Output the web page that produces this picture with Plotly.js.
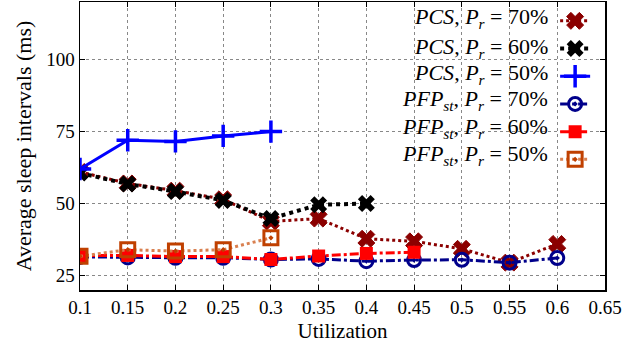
<!DOCTYPE html>
<html><head><meta charset="utf-8">
<script src="https://cdn.plot.ly/plotly-3.0.1.min.js"></script>
<style>html,body{margin:0;padding:0;background:#fff}#c{width:639px;height:352px}</style>
</head><body><div id="c"></div>
<script>
const utilization = [0.1,0.15,0.2,0.25,0.3,0.35,0.4,0.45,0.5,0.55,0.6];
const pcs70 = [61,57,54.5,51.5,43.8,44.8,37.8,36.9,34.3,29.5,36];
const pcs60 = [60.6,56.8,54.2,51.1,44.8,49.6,50];
const pcs50 = [62,72,71.6,73.5,75];
const pfp70 = [31.5,31.3,31.2,31.2,30.6,30.8,30,30.4,30.5,29.5,31.1];
const pfp60 = [32,32,31.6,31.6,30.6,31.8,32.7,33.1];
const pfp50 = [31.7,34,33.5,34,38.1];
const seriesLabels = [
  "<i>PCS</i>, <i>P<sub>r</sub></i> = 70%",
  "<i>PCS</i>, <i>P<sub>r</sub></i> = 60%",
  "<i>PCS</i>, <i>P<sub>r</sub></i> = 50%",
  "<i>PFP<sub>st</sub></i>, <i>P<sub>r</sub></i> = 70%",
  "<i>PFP<sub>st</sub></i>, <i>P<sub>r</sub></i> = 60%",
  "<i>PFP<sub>st</sub></i>, <i>P<sub>r</sub></i> = 50%"
];
const xTicks = [0.1,0.15,0.2,0.25,0.3,0.35,0.4,0.45,0.5,0.55,0.6,0.65];
const yTicks = [25,50,75,100];

const serif = "Times New Roman";
function tr(y, color, dash, width, symbol, size, mlw, mcolor) {
  return {x: utilization.slice(0, y.length), y: y, type: 'scatter', mode: 'lines+markers',
    name: ' ', line: {color: color, dash: dash, width: width},
    marker: {symbol: symbol, size: size, color: mcolor || color, line: {color: color, width: mlw}}};
}
const traces = [
  tr(pcs70, '#8b0000', 'dot', 3, 'x', 15, 1),
  tr(pcs60, '#000000', 'dot', 4, 'x', 15, 0),
  tr(pcs50, '#0000ff', 'solid', 3, 'cross-thin-open', 16, 3.5),
  tr(pfp70, '#00008b', 'dashdot', 3, 'circle-open-dot', 13, 3),
  tr(pfp60, '#ff0000', 'dashdot', 3, 'square', 13, 0),
  tr(pfp50, '#c04000', 'dot', 3, 'square-open-dot', 14, 3)
];
traces[5].line.color = '#d98050';
traces[5].marker.line.color = '#c04000';
traces[5].marker.color = '#c04000';

const rowY = [0.944, 0.842, 0.75, 0.658, 0.5625, 0.469];
const annotations = seriesLabels.map((t, i) => ({
  text: t, xref: 'paper', yref: 'paper', x: 0.895, y: rowY[i], xanchor: 'right', yanchor: 'middle',
  showarrow: false, font: {family: serif, size: 22, color: '#000'}
}));

const axisCommon = {showline: true, linecolor: '#000', linewidth: 1.5, mirror: 'ticks', ticks: 'inside', ticklen: 5,
  tickcolor: '#000', showgrid: true, gridcolor: '#888', griddash: 'dot', gridwidth: 1, zeroline: false,
  tickfont: {family: serif, size: 19, color: '#000'}};

const layout = {
  width: 639, height: 352, margin: {l: 80, r: 34, t: 2, b: 62},
  paper_bgcolor: '#fff', plot_bgcolor: '#fff',
  font: {family: serif},
  showlegend: true,
  legend: {x: 0.905, y: 1.0, xanchor: 'left', yanchor: 'top', bgcolor: 'rgba(0,0,0,0)', font: {family: serif, size: 19}, itemwidth: 30, tracegroupgap: 0},
  xaxis: Object.assign({}, axisCommon, {range: [0.1, 0.65], tickvals: xTicks, ticktext: xTicks.map(String),
    title: {text: 'Utilization', font: {family: serif, size: 21, color: '#000'}, standoff: 6}}),
  yaxis: Object.assign({}, axisCommon, {range: [20, 120], tickvals: yTicks,
    title: {text: 'Average sleep intervals (ms)', font: {family: serif, size: 22, color: '#000'}, standoff: 8}}),
  annotations: annotations
};
Plotly.newPlot('c', traces, layout, {displayModeBar: false, staticPlot: true});
</script></body></html>
